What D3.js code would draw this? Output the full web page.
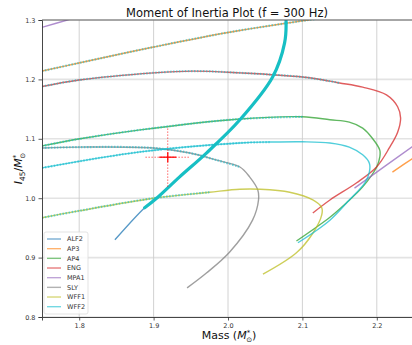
<!DOCTYPE html>
<html>
<head>
<meta charset="utf-8">
<script src="https://cdn.jsdelivr.net/npm/d3@7"></script>
<style>
  body { margin: 0; background: #fff; }
  svg { font-family: "DejaVu Sans", sans-serif; }
</style>
</head>
<body>
<div id="chart"></div>
<script>
// equations of state, in legend order
const eosNames = ["ALF2", "AP3", "AP4", "ENG", "MPA1", "SLY", "WFF1", "WFF2"];
const eosColors = ["#1f77b4", "#ff7f0e", "#2ca02c", "#d62728", "#9467bd", "#7f7f7f", "#bcbd22", "#17becf"];

// [mass, I45/M]
const alf2 = [[1.848,0.930],[1.888,0.984],[1.904,1.000],[1.935,1.036],[1.971,1.076],[2.016,1.132],[2.060,1.204],[2.076,1.261],[2.078,1.300],[2.076,1.320]];
const ap3Upper = [[1.750,1.214],[1.801,1.228],[1.900,1.2545],[2.000,1.279],[2.108,1.300],[2.150,1.307]];
const ap3Lower = [[2.221,1.044],[2.247,1.066],[2.270,1.085]];
const ap4 = [[1.750,1.088],[1.801,1.100],[1.882,1.115],[2.012,1.133],[2.100,1.137],[2.137,1.132],[2.163,1.128],[2.181,1.118],[2.194,1.101],[2.204,1.081],[2.204,1.069],[2.200,1.053],[2.181,1.019],[2.159,0.992],[2.137,0.968],[2.092,0.928]];
const eng = [[1.750,1.188],[1.800,1.199],[1.900,1.211],[1.953,1.214],[2.016,1.211],[2.100,1.204],[2.137,1.197],[2.150,1.194],[2.181,1.187],[2.213,1.174],[2.228,1.154],[2.232,1.135],[2.228,1.111],[2.217,1.085],[2.200,1.053],[2.173,1.026],[2.137,0.997],[2.114,0.975]];
const mpa1Upper = [[1.745,1.286],[1.751,1.288],[1.784,1.300],[1.800,1.306]];
const mpa1Lower = [[2.170,1.017],[2.247,1.086],[2.270,1.106]];
const sly = [[1.750,1.0845],[1.801,1.086],[1.900,1.0845],[1.949,1.076],[1.985,1.064],[2.016,1.0525],[2.029,1.036],[2.040,1.014],[2.041,0.997],[2.033,0.963],[2.002,0.909],[1.971,0.874],[1.945,0.849]];
const wff1 = [[1.750,0.967],[1.801,0.979],[1.900,1.000],[1.975,1.010],[2.016,1.015],[2.043,1.015],[2.083,1.010],[2.114,0.997],[2.126,0.984],[2.126,0.972],[2.114,0.941],[2.092,0.908],[2.047,0.872]];
const wff2 = [[1.750,1.051],[1.882,1.078],[2.016,1.093],[2.056,1.0945],[2.100,1.095],[2.137,1.093],[2.163,1.086],[2.181,1.073],[2.190,1.059],[2.190,1.044],[2.184,1.026],[2.163,0.997],[2.137,0.963],[2.094,0.925]];

// how many leading points of each main branch lie in the highlighted band
const bandCounts = [0, ap3Upper.length, 5, 8, 0, 6, 4, 4];

// measured point and its errors
const obsMass = 1.919, obsI = 1.069;
const obsMassErr = [0.0115, 0.030];
const obsIErr = [0.0085, 0.050];

const xTicks = [1.8, 1.9, 2.0, 2.1, 2.2];
const yTicks = [0.8, 0.9, 1.0, 1.1, 1.2, 1.3];

const curves = [
  [alf2], [ap3Upper, ap3Lower], [ap4], [eng], [mpa1Upper, mpa1Lower], [sly], [wff1], [wff2]
];

const width = 412, height = 345;
const plotLeft = 42, plotRight = 414, plotTop = 20, plotBottom = 317;

const svg = d3.select("#chart").append("svg")
  .attr("width", width).attr("height", height);

const x = d3.scaleLinear().domain([1.75, 2.25]).range([plotLeft, plotRight]);
const y = d3.scaleLinear().domain([0.8, 1.3]).range([plotBottom, plotTop]);

svg.append("defs").append("clipPath").attr("id", "plot")
  .append("rect").attr("x", plotLeft).attr("y", plotTop)
  .attr("width", plotRight - plotLeft).attr("height", plotBottom - plotTop);

// grid
svg.append("g").selectAll("line").data(yTicks).enter().append("line")
  .attr("x1", plotLeft).attr("x2", plotRight)
  .attr("y1", d => y(d)).attr("y2", d => y(d))
  .attr("stroke", "#e3e3e3").attr("stroke-width", 1.6);
svg.append("g").selectAll("line").data(xTicks).enter().append("line")
  .attr("x1", d => x(d)).attr("x2", d => x(d))
  .attr("y1", plotTop).attr("y2", plotBottom)
  .attr("stroke", "#cdcdcd").attr("stroke-width", 0.9);

const line = d3.line().x(d => x(d[0])).y(d => y(d[1])).curve(d3.curveCatmullRom.alpha(0.5));
const plot = svg.append("g").attr("clip-path", "url(#plot)");

curves.forEach((segs, i) => {
  segs.forEach(seg => {
    plot.append("path").attr("d", line(seg))
      .attr("fill", "none").attr("stroke", eosColors[i])
      .attr("stroke-width", 1.4).attr("stroke-opacity", 0.75);
  });
});

// highlighted band overlay
curves.forEach((segs, i) => {
  if (!bandCounts[i]) return;
  plot.append("path").attr("d", line(segs[0].slice(0, bandCounts[i])))
    .attr("fill", "none").attr("stroke", "#17becf")
    .attr("stroke-width", 2.2).attr("stroke-opacity", 0.6)
    .attr("stroke-dasharray", "1.5,1.5");
});
plot.append("path").attr("d", line(alf2.slice(1)))
  .attr("fill", "none").attr("stroke", "#17bfc4")
  .attr("stroke-width", 3.2).attr("stroke-linecap", "round");

// measured point
const obs = plot.append("g").attr("stroke", "#ff0000");
obs.append("line").attr("x1", x(obsMass - obsMassErr[1])).attr("x2", x(obsMass + obsMassErr[1]))
  .attr("y1", y(obsI)).attr("y2", y(obsI))
  .attr("stroke-width", 1).attr("stroke-dasharray", "1.5,1.5").attr("stroke-opacity", 0.6);
obs.append("line").attr("x1", x(obsMass)).attr("x2", x(obsMass))
  .attr("y1", y(obsI - obsIErr[1])).attr("y2", y(obsI + obsIErr[1]))
  .attr("stroke-width", 1).attr("stroke-dasharray", "1.5,1.5").attr("stroke-opacity", 0.6);
obs.append("line").attr("x1", x(obsMass - obsMassErr[0])).attr("x2", x(obsMass + obsMassErr[0]))
  .attr("y1", y(obsI)).attr("y2", y(obsI)).attr("stroke-width", 1.5).attr("stroke-opacity", 0.85);
obs.append("line").attr("x1", x(obsMass)).attr("x2", x(obsMass))
  .attr("y1", y(obsI - obsIErr[0])).attr("y2", y(obsI + obsIErr[0])).attr("stroke-width", 1.5).attr("stroke-opacity", 0.85);

// axes
const xAxis = svg.append("g").attr("transform", `translate(0,${plotBottom})`)
  .call(d3.axisBottom(x).tickValues(xTicks).tickFormat(d3.format(".1f")).tickSize(3.5).tickPadding(3));
const yAxis = svg.append("g").attr("transform", `translate(${plotLeft},0)`)
  .call(d3.axisLeft(y).tickValues(yTicks).tickFormat(d3.format(".1f")).tickSize(3.5).tickPadding(3));
[xAxis, yAxis].forEach(a => {
  a.select(".domain").attr("stroke", "#333").attr("stroke-width", 0.9);
  a.selectAll(".tick line").attr("stroke", "#333").attr("stroke-width", 0.8);
  a.selectAll("text").attr("font-family", "DejaVu Sans").attr("font-size", 6.5).attr("fill", "#333");
});
svg.append("line").attr("x1", plotLeft).attr("x2", plotRight).attr("y1", plotTop).attr("y2", plotTop)
  .attr("stroke", "#555").attr("stroke-width", 0.9);

// title and labels
svg.append("text").attr("x", (plotLeft + plotRight) / 2 - 1).attr("y", 17)
  .attr("text-anchor", "middle").attr("font-size", 11.5).attr("fill", "#111")
  .text("Moment of Inertia Plot (f = 300 Hz)");

const xl = svg.append("text").attr("x", 229).attr("y", 339)
  .attr("text-anchor", "middle").attr("font-size", 11).attr("fill", "#111");
xl.append("tspan").text("Mass (");
xl.append("tspan").attr("font-style", "italic").text("M");
xl.append("tspan").attr("font-size", 7).attr("dy", -4).text("*");
xl.append("tspan").attr("font-size", 7).attr("dx", -4).attr("dy", 7).text("⊙");
xl.append("tspan").attr("dy", -3).text(")");

const yl = svg.append("text").attr("transform", `translate(22,${(plotTop + plotBottom) / 2}) rotate(-90)`)
  .attr("text-anchor", "middle").attr("font-size", 11).attr("fill", "#111");
yl.append("tspan").attr("font-style", "italic").text("I");
yl.append("tspan").attr("font-size", 7.5).attr("dy", 3).text("45");
yl.append("tspan").attr("dy", -3).text("/");
yl.append("tspan").attr("font-style", "italic").text("M");
yl.append("tspan").attr("font-size", 7).attr("dy", -4).text("*");
yl.append("tspan").attr("font-size", 7).attr("dx", -4).attr("dy", 7).text("⊙");

// legend
const lg = svg.append("g").attr("transform", "translate(44,232)");
lg.append("rect").attr("width", 44).attr("height", 82).attr("rx", 2)
  .attr("fill", "#fff").attr("fill-opacity", 0.8).attr("stroke", "#dcdcdc").attr("stroke-width", 0.8);
const items = lg.selectAll("g.item").data(eosNames).enter().append("g")
  .attr("transform", (d, i) => `translate(0,${7 + i * 9.67})`);
items.append("line").attr("x1", 3).attr("x2", 17)
  .attr("stroke", (d, i) => eosColors[i]).attr("stroke-width", 1.4).attr("stroke-opacity", 0.6);
items.append("text").attr("x", 23).attr("y", 2.3).attr("font-size", 6.5).attr("fill", "#333").text(d => d);
</script>
</body>
</html>
